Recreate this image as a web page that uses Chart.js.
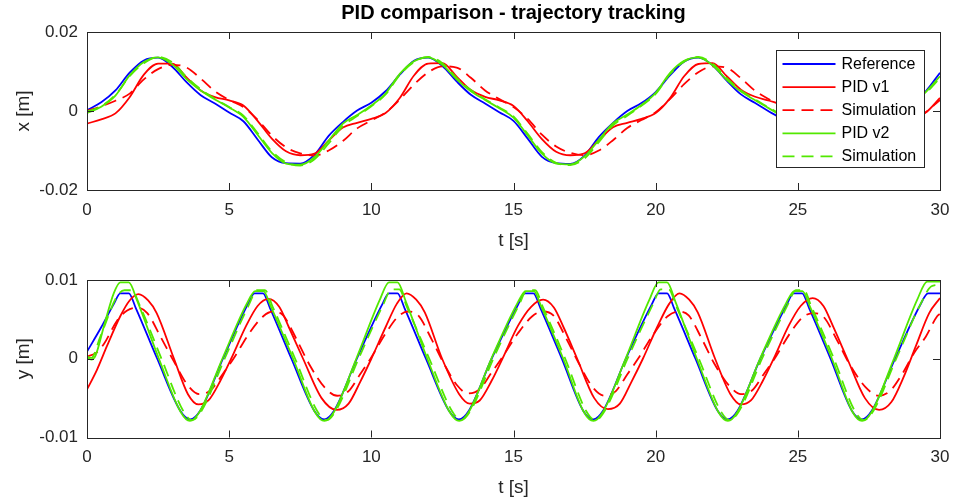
<!DOCTYPE html>
<html>
<head>
<meta charset="utf-8">
<title>PID comparison - trajectory tracking</title>
<script src="https://cdn.jsdelivr.net/npm/chart.js@4/dist/chart.umd.min.js"></script>
<style>
  html, body { margin: 0; padding: 0; background: #ffffff; }
  #wrap { position: relative; width: 955px; height: 501px; overflow: hidden; }
  #cx { position: absolute; left: 0; top: 0; }
  #cy { position: absolute; left: 0; top: 252px; }
</style>
</head>
<body>
<div id="wrap">
  <canvas id="cx" width="955" height="252"></canvas>
  <canvas id="cy" width="955" height="249"></canvas>
</div>
<script>
// ---------- time axis and ticks ----------
const tTicks = [0, 5, 10, 15, 20, 25, 30];
const xPosTicks = [-0.02, 0, 0.02];
const xPosTickLabels = ['-0.02', '0', '0.02'];
const yPosTicks = [-0.01, 0, 0.01];
const yPosTickLabels = ['-0.01', '0', '0.01'];

const seriesNames = ['Reference', 'PID v1', 'Simulation', 'PID v2', 'Simulation'];

// ---------- x position [m], sampled every 0.5 s ----------
const tX = [0, 0.5, 1, 1.5, 2, 2.5, 3, 3.5, 4, 4.5, 5, 5.5, 6, 6.5, 7, 7.5, 8, 8.5, 9,
  9.5, 10, 10.5, 11, 11.5, 12, 12.5, 13, 13.5, 14, 14.5, 15, 15.5, 16, 16.5, 17, 17.5, 18, 18.5,
  19, 19.5, 20, 20.5, 21, 21.5, 22, 22.5, 23, 23.5, 24, 24.5, 25, 25.5, 26, 26.5, 27, 27.5, 28,
  28.5, 29, 29.5, 30];

const xRef = [0.0002, 0.0022, 0.0052, 0.0097, 0.0128, 0.0135, 0.0112, 0.0073, 0.0040, 0.0019, -0.0004, -0.0026, -0.0072, -0.0117, -0.0132, -0.0133, -0.0111, -0.0063, -0.0028,
  0.0001, 0.0021, 0.0050, 0.0092, 0.0127, 0.0135, 0.0114, 0.0075, 0.0041, 0.0019, -0.0003, -0.0025, -0.0070, -0.0116, -0.0132, -0.0134, -0.0113, -0.0066, -0.0030,
  0.0000, 0.0020, 0.0048, 0.0090, 0.0125, 0.0135, 0.0116, 0.0077, 0.0042, 0.0020, -0.0002, -0.0024, -0.0068, -0.0114, -0.0131, -0.0134, -0.0115, -0.0068, -0.0031,
  -0.0001, 0.0020, 0.0050, 0.0097];

const xPid1 = [-0.0032, -0.0021, -0.0006, 0.0035, 0.0092, 0.0120, 0.0120, 0.0085, 0.0052, 0.0035, 0.0027, 0.0014, -0.0025, -0.0070, -0.0102, -0.0112, -0.0108, -0.0075, -0.0042,
  -0.0030, -0.0020, -0.0005, 0.0033, 0.0090, 0.0120, 0.0121, 0.0087, 0.0053, 0.0036, 0.0027, 0.0013, -0.0026, -0.0071, -0.0103, -0.0112, -0.0107, -0.0074, -0.0041,
  -0.0030, -0.0020, -0.0005, 0.0032, 0.0088, 0.0119, 0.0121, 0.0088, 0.0054, 0.0036, 0.0026, 0.0012, -0.0027, -0.0072, -0.0103, -0.0112, -0.0106, -0.0073, -0.0040,
  -0.0030, -0.0019, -0.0004, 0.0033];

const xSim1 = [0.0000, 0.0012, 0.0026, 0.0044, 0.0080, 0.0106, 0.0117, 0.0110, 0.0082, 0.0050, 0.0028, 0.0010, -0.0022, -0.0062, -0.0092, -0.0107, -0.0113, -0.0100, -0.0076,
  -0.0044, -0.0024, -0.0004, 0.0029, 0.0067, 0.0098, 0.0113, 0.0110, 0.0084, 0.0052, 0.0030, 0.0010, -0.0020, -0.0060, -0.0090, -0.0106, -0.0112, -0.0100, -0.0074,
  -0.0043, -0.0023, -0.0003, 0.0030, 0.0068, 0.0098, 0.0113, 0.0109, 0.0083, 0.0051, 0.0029, 0.0009, -0.0021, -0.0061, -0.0091, -0.0107, -0.0112, -0.0099, -0.0073,
  -0.0043, -0.0023, -0.0003, 0.0028];

const xPid2 = [-0.0005, 0.0011, 0.0039, 0.0090, 0.0124, 0.0136, 0.0118, 0.0081, 0.0052, 0.0029, 0.0009, -0.0015, -0.0060, -0.0106, -0.0133, -0.0136, -0.0117, -0.0075, -0.0032,
  -0.0010, 0.0014, 0.0044, 0.0094, 0.0126, 0.0136, 0.0117, 0.0080, 0.0050, 0.0028, 0.0007, -0.0017, -0.0062, -0.0108, -0.0133, -0.0135, -0.0115, -0.0073, -0.0031,
  -0.0009, 0.0015, 0.0046, 0.0096, 0.0127, 0.0136, 0.0116, 0.0079, 0.0049, 0.0027, 0.0006, -0.0018, -0.0063, -0.0109, -0.0134, -0.0135, -0.0114, -0.0071, -0.0030,
  -0.0008, 0.0016, 0.0048, 0.0088];

const xSim2 = [-0.0002, 0.0012, 0.0041, 0.0088, 0.0121, 0.0137, 0.0123, 0.0086, 0.0055, 0.0031, 0.0010, -0.0012, -0.0056, -0.0102, -0.0130, -0.0138, -0.0122, -0.0082, -0.0038,
  -0.0013, 0.0012, 0.0042, 0.0091, 0.0124, 0.0137, 0.0121, 0.0084, 0.0053, 0.0030, 0.0009, -0.0014, -0.0058, -0.0104, -0.0131, -0.0137, -0.0120, -0.0079, -0.0036,
  -0.0012, 0.0013, 0.0043, 0.0093, 0.0125, 0.0137, 0.0120, 0.0083, 0.0052, 0.0029, 0.0008, -0.0015, -0.0059, -0.0105, -0.0132, -0.0137, -0.0119, -0.0077, -0.0035,
  -0.0011, 0.0014, 0.0045, 0.0084];

// ---------- y position [m], sampled at each series' own instants ----------
const tYRef = [0, 0.5, 0.95, 1.17, 1.47, 1.72, 2.47, 3.28, 3.63, 3.98, 4.78, 5.64, 5.89, 6.19, 6.44, 7.19, 7.99, 8.34, 8.69,
  9.49, 10.37, 10.62, 10.92, 11.17, 11.92, 12.73, 13.08, 13.43, 14.23, 15.15, 15.40, 15.70, 15.95, 16.70, 17.45, 17.80, 18.15,
  18.95, 19.85, 20.10, 20.40, 20.65, 21.40, 22.18, 22.53, 22.88, 23.68, 24.60, 24.85, 25.15, 25.40, 26.15, 26.90, 27.25, 27.60,
  28.42, 29.30, 29.58, 30];
const yRef = [0.0009, 0.0040, 0.0070, 0.0083, 0.0083, 0.0064, 0.0000, -0.0066, -0.0077, -0.0066,
  0.0000, 0.0068, 0.0083, 0.0083, 0.0064, 0.0000, -0.0066, -0.0077, -0.0066,
  0.0000, 0.0068, 0.0083, 0.0083, 0.0064, 0.0000, -0.0066, -0.0077, -0.0066,
  0.0000, 0.0068, 0.0083, 0.0083, 0.0064, 0.0000, -0.0066, -0.0077, -0.0066,
  0.0000, 0.0068, 0.0083, 0.0083, 0.0064, 0.0000, -0.0066, -0.0077, -0.0066,
  0.0000, 0.0068, 0.0083, 0.0083, 0.0064, 0.0000, -0.0066, -0.0077, -0.0066,
  0.0000, 0.0068, 0.0083, 0.0083];

const tYPid1 = [0, 0.35, 0.70, 1.17, 1.50, 1.81, 2.15, 2.45, 3.06, 3.55, 3.92, 4.27, 4.69, 5.07, 5.60, 6.00, 6.38, 6.76, 7.10, 7.60,
  8.25, 8.78, 9.20, 9.60, 10.00, 10.50, 10.90, 11.24, 11.58, 11.88, 12.49, 13.09, 13.46, 13.81, 14.23, 14.61, 15.16, 15.62, 16.04, 16.42,
  16.76, 17.24, 17.84, 18.32, 18.74, 19.14, 19.55, 20.05, 20.48, 20.84, 21.18, 21.48, 22.09, 22.63, 23.00, 23.35, 23.77, 24.15, 24.68, 25.10,
  25.52, 25.90, 26.24, 26.74, 27.36, 27.86, 28.29, 28.70, 29.15, 29.62, 30];
const yPid1 = [-0.0039, -0.0014, 0.0016, 0.0054, 0.0074, 0.0082, 0.0074, 0.0058, 0.0000, -0.0045,
  -0.0058, -0.0053, -0.0028, 0.0000, 0.0042, 0.0067, 0.0076, 0.0066, 0.0040, 0.0000,
  -0.0050, -0.0065, -0.0057, -0.0030, 0.0000, 0.0040, 0.0070, 0.0083, 0.0075, 0.0059,
  0.0000, -0.0045, -0.0057, -0.0053, -0.0028, 0.0000, 0.0042, 0.0066, 0.0075, 0.0065,
  0.0040, 0.0000, -0.0050, -0.0064, -0.0057, -0.0030, 0.0000, 0.0040, 0.0070, 0.0083,
  0.0075, 0.0059, 0.0000, -0.0045, -0.0058, -0.0053, -0.0028, 0.0000, 0.0042, 0.0067,
  0.0077, 0.0067, 0.0041, 0.0000, -0.0050, -0.0065, -0.0055, -0.0025, 0.0016, 0.0058, 0.0077];

const tYSim1 = [0, 0.30, 0.60, 1.05, 1.40, 1.76, 2.12, 2.60, 3.05, 3.55, 3.95, 4.35, 4.80, 5.15, 5.70, 6.20, 6.55, 6.90, 7.38, 7.80,
  8.35, 8.80, 9.20, 9.60, 9.97, 10.50, 10.95, 11.30, 11.65, 12.13, 12.55, 13.00, 13.40, 13.80, 14.22, 14.57, 15.15, 15.66, 16.04, 16.40,
  16.88, 17.30, 17.78, 18.20, 18.60, 19.00, 19.38, 19.94, 20.42, 20.80, 21.16, 21.64, 22.06, 22.58, 23.00, 23.40, 23.83, 24.18, 24.72, 25.18,
  25.55, 25.91, 26.40, 26.82, 27.38, 27.84, 28.24, 28.66, 29.10, 29.50, 29.90, 30];
const ySim1 = [0.0003, 0.0007, 0.0019, 0.0048, 0.0061, 0.0065, 0.0058, 0.0027, -0.0003, -0.0034,
  -0.0045, -0.0040, -0.0018, 0.0000, 0.0032, 0.0054, 0.0060, 0.0055, 0.0024, -0.0006,
  -0.0036, -0.0047, -0.0041, -0.0020, 0.0000, 0.0032, 0.0054, 0.0060, 0.0055, 0.0024,
  -0.0006, -0.0033, -0.0044, -0.0039, -0.0018, 0.0000, 0.0032, 0.0054, 0.0060, 0.0055,
  0.0024, -0.0006, -0.0036, -0.0047, -0.0041, -0.0020, 0.0000, 0.0032, 0.0054, 0.0060,
  0.0055, 0.0024, -0.0006, -0.0034, -0.0045, -0.0040, -0.0018, 0.0000, 0.0032, 0.0053,
  0.0058, 0.0053, 0.0022, -0.0007, -0.0036, -0.0047, -0.0041, -0.0020, 0.0008, 0.0028, 0.0054, 0.0057];

const tYPid2 = [0, 0.15, 0.3, 0.6, 0.94, 1.17, 1.47, 1.77, 2.55, 3.30, 3.62, 3.95, 4.76, 5.62, 5.92, 6.20, 6.47, 7.25, 8.02, 8.35,
  8.68, 9.47, 10.30, 10.62, 10.92, 11.22, 11.97, 12.76, 13.09, 13.42, 14.22, 15.13, 15.43, 15.71, 15.98, 16.75, 17.48, 17.81, 18.14, 18.94,
  19.78, 20.10, 20.40, 20.70, 21.45, 22.21, 22.54, 22.87, 23.67, 24.58, 24.88, 25.16, 25.43, 26.20, 26.93, 27.26, 27.59, 28.38, 29.20, 29.55, 30];
const yPid2 = [0.0002, -0.0001, 0.0004, 0.0042, 0.0083, 0.0097, 0.0097, 0.0073, -0.0002, -0.0068,
  -0.0079, -0.0068, 0.0000, 0.0070, 0.0086, 0.0086, 0.0066, 0.0000, -0.0068, -0.0079,
  -0.0068, 0.0000, 0.0075, 0.0097, 0.0097, 0.0072, 0.0000, -0.0068, -0.0079, -0.0068,
  0.0000, 0.0070, 0.0086, 0.0086, 0.0066, 0.0000, -0.0068, -0.0079, -0.0068, 0.0000,
  0.0075, 0.0097, 0.0097, 0.0072, 0.0000, -0.0068, -0.0079, -0.0068, 0.0000, 0.0070,
  0.0086, 0.0086, 0.0066, 0.0000, -0.0068, -0.0079, -0.0068, 0.0000, 0.0075, 0.0098, 0.0098];

const tYSim2 = [0, 0.15, 0.47, 1.05, 1.32, 1.58, 1.85, 2.62, 3.38, 3.70, 4.03, 4.84, 5.70, 5.98, 6.26, 6.53, 7.32, 8.09, 8.42, 8.75,
  9.55, 10.42, 10.70, 10.98, 11.25, 12.04, 12.83, 13.16, 13.49, 14.29, 15.20, 15.48, 15.76, 16.03, 16.82, 17.55, 17.88, 18.21, 19.01, 19.90,
  20.18, 20.46, 20.73, 21.52, 22.28, 22.61, 22.94, 23.74, 24.65, 24.93, 25.21, 25.48, 26.27, 27.00, 27.33, 27.66, 28.46, 29.35, 29.70, 30];
const ySim2 = [0.0003, 0.0001, 0.0028, 0.0079, 0.0087, 0.0087, 0.0068, 0.0000, -0.0066, -0.0078,
  -0.0066, 0.0000, 0.0069, 0.0087, 0.0087, 0.0066, 0.0000, -0.0066, -0.0078, -0.0066,
  0.0000, 0.0069, 0.0088, 0.0088, 0.0066, 0.0000, -0.0066, -0.0078, -0.0066, 0.0000,
  0.0069, 0.0087, 0.0087, 0.0066, 0.0000, -0.0066, -0.0078, -0.0066, 0.0000, 0.0069,
  0.0088, 0.0088, 0.0066, 0.0000, -0.0066, -0.0078, -0.0066, 0.0000, 0.0069, 0.0087,
  0.0087, 0.0066, 0.0000, -0.0066, -0.0078, -0.0066, 0.0000, 0.0072, 0.0092, 0.0094];

// ---------- styling ----------
const FONT = "'Liberation Sans', Arial, Helvetica, sans-serif";
const AXIS_COLOR = '#262626';
const BLUE = '#0000ff';
const RED = '#ff0000';
const GREEN = 'rgb(82, 232, 0)';
const DASH = [12, 7];

const pts = (ts, vs) => ts.map((t, i) => ({ x: t, y: vs[i] }));

function makeDatasets(series) {
  const styles = [
    { color: BLUE, dash: [], order: 5 },
    { color: RED, dash: [], order: 4 },
    { color: RED, dash: DASH, order: 3 },
    { color: GREEN, dash: [], order: 2 },
    { color: GREEN, dash: DASH, order: 1 }
  ];
  return series.map((data, i) => ({
    label: seriesNames[i],
    data: data,
    borderColor: styles[i].color,
    borderDash: styles[i].dash,
    borderWidth: 1.8,
    pointRadius: 0,
    fill: false,
    cubicInterpolationMode: 'monotone',
    order: styles[i].order
  }));
}

// MATLAB-like axes box with inward tick marks
const axesFrame = {
  id: 'axesFrame',
  afterDatasetsDraw(chart) {
    const { ctx, chartArea: a, scales } = chart;
    const L = 7;
    ctx.save();
    ctx.strokeStyle = AXIS_COLOR;
    ctx.lineWidth = 1;
    ctx.setLineDash([]);
    ctx.beginPath();
    scales.x.ticks.forEach(t => {
      const px = Math.round(scales.x.getPixelForValue(t.value)) + 0.5;
      ctx.moveTo(px, a.bottom); ctx.lineTo(px, a.bottom - L);
      ctx.moveTo(px, a.top); ctx.lineTo(px, a.top + L);
    });
    scales.y.ticks.forEach(t => {
      const py = Math.round(scales.y.getPixelForValue(t.value)) + 0.5;
      ctx.moveTo(a.left, py); ctx.lineTo(a.left + L, py);
      ctx.moveTo(a.right, py); ctx.lineTo(a.right - L, py);
    });
    ctx.stroke();
    ctx.strokeRect(Math.round(a.left) + 0.5, Math.round(a.top) + 0.5,
      Math.round(a.right - a.left), Math.round(a.bottom - a.top));
    ctx.restore();
  }
};

// Legend box drawn inside the plot area (top right)
const insideLegend = {
  id: 'insideLegend',
  afterDatasetsDraw(chart, args, opts) {
    if (!opts || !opts.show) return;
    const { ctx, chartArea: a } = chart;
    const w = 148, h = 117;
    const left = Math.round(a.right - 164.5) + 0.5;
    const top = Math.round(a.top + 17.5) + 0.5;
    ctx.save();
    ctx.fillStyle = '#ffffff';
    ctx.fillRect(left, top, w, h);
    ctx.strokeStyle = AXIS_COLOR;
    ctx.lineWidth = 1;
    ctx.setLineDash([]);
    ctx.strokeRect(left, top, w, h);
    ctx.font = '16px ' + FONT;
    ctx.textBaseline = 'middle';
    ctx.textAlign = 'left';
    chart.data.datasets.forEach((ds, i) => {
      const y = top + 13.5 + i * 23.1;
      ctx.beginPath();
      ctx.strokeStyle = ds.borderColor;
      ctx.lineWidth = ds.borderWidth;
      ctx.setLineDash(ds.borderDash);
      ctx.moveTo(left + 6, y);
      ctx.lineTo(left + 59, y);
      ctx.stroke();
      ctx.setLineDash([]);
      ctx.fillStyle = '#000000';
      ctx.fillText(ds.label, left + 65, y + 0.5);
    });
    ctx.restore();
  }
};

function makeOptions(cfg) {
  return {
    responsive: false,
    animation: false,
    events: [],
    layout: { padding: { left: 0, right: 15, top: cfg.padTop, bottom: 0 } },
    plugins: {
      legend: { display: false },
      tooltip: { enabled: false },
      title: cfg.title ? {
        display: true,
        text: cfg.title,
        fullSize: false,
        color: '#000000',
        font: { family: FONT, size: 20, weight: 'bold', lineHeight: 1.2 },
        padding: { top: 1, bottom: 7 }
      } : { display: false },
      insideLegend: { show: cfg.legend }
    },
    scales: {
      x: {
        type: 'linear',
        min: 0,
        max: 30,
        afterBuildTicks(scale) { scale.ticks = tTicks.map(v => ({ value: v })); },
        afterFit(scale) {
          scale.height = cfg.xHeight;
          scale.paddingLeft = 0;
          scale.paddingRight = 0;
        },
        ticks: {
          color: AXIS_COLOR,
          font: { family: FONT, size: 17 },
          padding: 10,
          maxRotation: 0,
          autoSkip: false,
          callback: (v) => String(v)
        },
        grid: { display: false, drawTicks: false },
        border: { display: false },
        title: {
          display: true,
          text: 't [s]',
          color: AXIS_COLOR,
          font: { family: FONT, size: 19, lineHeight: 1.2 },
          padding: { top: 0, bottom: cfg.xTitlePad }
        }
      },
      y: {
        type: 'linear',
        min: cfg.yTicks[0],
        max: cfg.yTicks[cfg.yTicks.length - 1],
        afterBuildTicks(scale) { scale.ticks = cfg.yTicks.map(v => ({ value: v })); },
        afterFit(scale) { scale.width = 87; },
        ticks: {
          color: AXIS_COLOR,
          font: { family: FONT, size: 17 },
          padding: 9,
          autoSkip: false,
          callback: (v, i) => cfg.yLabels[i]
        },
        grid: { display: false, drawTicks: false },
        border: { display: false },
        title: {
          display: true,
          text: cfg.yTitle,
          color: AXIS_COLOR,
          font: { family: FONT, size: 19, lineHeight: 1.2 },
          padding: { top: 12.6, bottom: 0 }
        }
      }
    }
  };
}

// top: x position versus time
new Chart(document.getElementById('cx'), {
  type: 'line',
  data: {
    datasets: makeDatasets([
      pts(tX, xRef), pts(tX, xPid1), pts(tX, xSim1), pts(tX, xPid2), pts(tX, xSim2)
    ])
  },
  options: makeOptions({
    padTop: 0, title: 'PID comparison - trajectory tracking', legend: true,
    xHeight: 62, xTitlePad: 0,
    yTicks: xPosTicks, yLabels: xPosTickLabels, yTitle: 'x [m]'
  }),
  plugins: [axesFrame, insideLegend]
});

// bottom: y position versus time
new Chart(document.getElementById('cy'), {
  type: 'line',
  data: {
    datasets: makeDatasets([
      pts(tYRef, yRef), pts(tYPid1, yPid1), pts(tYSim1, ySim1), pts(tYPid2, yPid2), pts(tYSim2, ySim2)
    ])
  },
  options: makeOptions({
    padTop: 28, title: null, legend: false,
    xHeight: 63.5, xTitlePad: 1.6,
    yTicks: yPosTicks, yLabels: yPosTickLabels, yTitle: 'y [m]'
  }),
  plugins: [axesFrame, insideLegend]
});
</script>
</body>
</html>
